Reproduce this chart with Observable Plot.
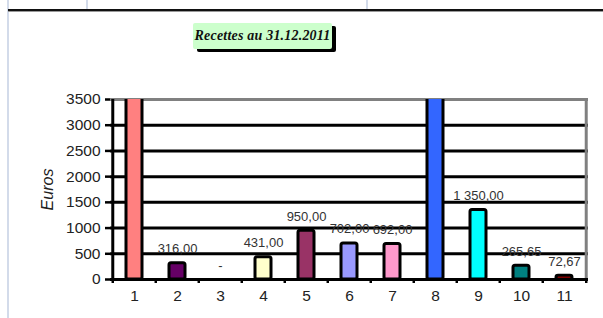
<!DOCTYPE html>
<html>
<head>
<meta charset="utf-8">
<script src="https://cdn.jsdelivr.net/npm/d3@7"></script>
<script src="https://cdn.jsdelivr.net/npm/@observablehq/plot@0.6"></script>
<style>
  html, body { margin: 0; padding: 0; background: #fff; }
  #wrap { position: relative; width: 603px; height: 318px; overflow: hidden; background: #fff; font-family: "Liberation Sans", Arial, sans-serif; }
  #chart { position: absolute; left: 0; top: 0; }
  .vline { position: absolute; background: #d3dbea; }
  .hline { position: absolute; left: 8px; right: 0; top: 9px; height: 2px; background: #111; box-shadow: 0 1px 0 #999; }
  #title { position: absolute; left: 193px; top: 23px; width: 139px; height: 26px; background: #ccffcc; box-shadow: 4px 3px 0 #000; border-radius: 2px;
           font-family: "Liberation Serif", "Times New Roman", serif; font-weight: bold; font-style: italic; font-size: 14px; color: #111;
           display: flex; align-items: center; justify-content: center; letter-spacing: 0.2px; }
</style>
</head>
<body>
<div id="wrap">
  <div class="vline" style="left:7px;top:0;width:2px;height:318px"></div>
  <div class="vline" style="left:86px;top:0;width:2px;height:10px"></div>
  <div class="vline" style="left:366px;top:0;width:2px;height:10px"></div>
  <div class="hline"></div>
  <div id="chart"></div>
  <div id="title">Recettes au 31.12.2011</div>
</div>
<script>
const categories = ["1", "2", "3", "4", "5", "6", "7", "8", "9", "10", "11"];
const values = [5200, 316, 0, 431, 950, 702, 692, 6100, 1350, 265.65, 72.67];
const valueLabels = ["", "316,00", "-", "431,00", "950,00", "702,00", "692,00", "", "1 350,00", "265,65", "72,67"];
const barColors = ["#ff8080", "#660066", "#ffffff", "#ffffcc", "#993366", "#9999ff", "#ff99cc", "#3366ff", "#00ffff", "#008080", "#ff0000"];
const yTicks = [0, 500, 1000, 1500, 2000, 2500, 3000, 3500];
const gridLines = [500, 1000, 1500, 2000, 2500, 3000];
const yMax = 3500;

const data = categories.map((c, i) => ({cat: c, value: values[i], label: valueLabels[i], color: barColors[i]}));

const W = 603, H = 318, ML = 110, MR = 15, MT = 99, MB = 39;
const step = (W - ML - MR) / categories.length;
const firstCat = categories.slice(0, 1);
const lastCat = categories.slice(-1);

const plot = Plot.plot({
  width: W,
  height: H,
  marginLeft: ML,
  marginRight: MR,
  marginTop: MT,
  marginBottom: MB,
  style: {fontFamily: "'Liberation Sans', Arial, sans-serif", background: "transparent", overflow: "visible"},
  x: {domain: categories, paddingInner: 0.63, paddingOuter: 0.315},
  y: {domain: [0, yMax]},
  color: {type: "identity"},
  marks: [
    Plot.ruleY(gridLines, {stroke: "#000", strokeWidth: 3}),
    Plot.ruleY([yMax], {stroke: "#808080", strokeWidth: 3}),
    Plot.ruleX(lastCat, {x: d => d, y1: 0, y2: yMax, dx: step / 2, stroke: "#808080", strokeWidth: 3}),
    Plot.barY(data.filter(d => d.value > 0), {x: "cat", y: "value", fill: "color", stroke: "#000", strokeWidth: 3, rx: 2, clip: true}),
    Plot.text(data.filter(d => d.label !== ""), {x: "cat", y: "value", text: "label", lineAnchor: "bottom", dy: -10, fontSize: 13, fill: "#333"}),
    Plot.ruleY([0], {stroke: "#000", strokeWidth: 3}),
    Plot.ruleX(firstCat, {x: d => d, y1: 0, y2: yMax, dx: -step / 2, stroke: "#000", strokeWidth: 3}),
    Plot.axisY({ticks: yTicks, tickSize: 5, tickPadding: 5, tickFormat: d => String(d), fontSize: 15.5, fill: "#222", stroke: "#000", strokeWidth: 2.5, label: null}),
    Plot.axisY({ticks: [], label: "Euros", labelAnchor: "center", labelArrow: "none", labelOffset: 69, fontSize: 16, fontStyle: "italic", fill: "#222"}),
    Plot.axisX({tickSize: 0, tickPadding: 10, fontSize: 15.5, fill: "#222", label: null}),
    Plot.axisX({tickSize: 4, tickFormat: () => "", dx: -step / 2, stroke: "#000", strokeWidth: 2.5, label: null}),
    Plot.axisX(lastCat, {tickSize: 4, tickFormat: () => "", dx: step / 2, stroke: "#000", strokeWidth: 2.5, label: null})
  ]
});
document.getElementById("chart").appendChild(plot);
</script>
</body>
</html>
